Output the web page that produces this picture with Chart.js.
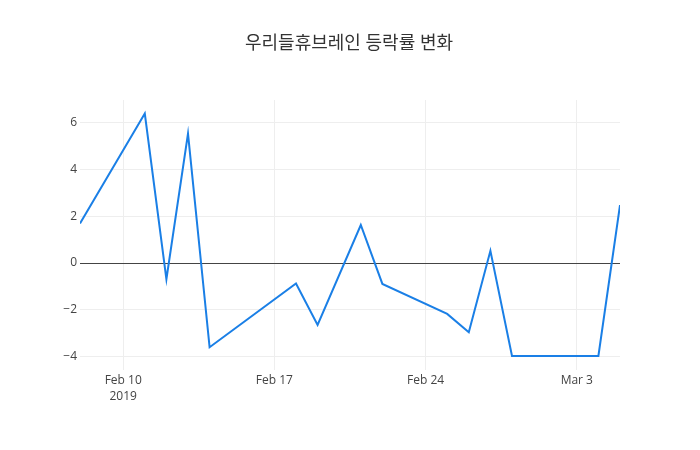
<!DOCTYPE html>
<html>
<head>
<meta charset="utf-8">
<script src="https://cdn.jsdelivr.net/npm/chart.js@4/dist/chart.umd.min.js"></script>
<style>
html,body{margin:0;padding:0;background:#fff;}
#wrap{width:700px;height:450px;position:relative;}
</style>
</head>
<body>
<div id="wrap"><canvas id="c" width="700" height="450"></canvas></div>
<script>
const TITLE = '우리들휴브레인 등락률 변화';
const dates = ['2019-02-08','2019-02-11','2019-02-12','2019-02-13','2019-02-14','2019-02-18','2019-02-19','2019-02-21','2019-02-22','2019-02-25','2019-02-26','2019-02-27','2019-02-28','2019-03-04','2019-03-05'];
const values = [1.69, 6.37, -0.69, 5.52, -3.59, -0.87, -2.64, 1.62, -0.89, -2.17, -2.95, 0.52, -3.96, -3.96, 2.47];
const xTickDates = ['2019-02-10','2019-02-17','2019-02-24','2019-03-03'];
const xTickLabels = [['Feb 10','2019'],'Feb 17','Feb 24','Mar 3'];
const yTicks = [-4,-2,0,2,4,6];
const xRange = ['2019-02-08','2019-03-05'];
const yRange = [-4.56, 6.95];

const DAY = 86400000;
const base = Date.parse(xRange[0] + 'T00:00:00Z');
const toDay = d => (Date.parse(d + 'T00:00:00Z') - base) / DAY;
const points = dates.map((d,i) => ({x: toDay(d), y: values[i]}));
const xTickVals = xTickDates.map(toDay);

const FONT = "'Open Sans', 'Noto Sans CJK KR', sans-serif";

const titlePlugin = {
  id: 'plotTitle',
  afterDraw(chart) {
    const ctx = chart.ctx;
    ctx.save();
    ctx.font = "18px " + FONT;
    ctx.fillStyle = '#333';
    ctx.textAlign = 'center';
    ctx.textBaseline = 'middle';
    ctx.fillText(TITLE, 349, 44);
    ctx.restore();
  }
};

new Chart(document.getElementById('c'), {
  type: 'line',
  data: {
    datasets: [{
      data: points,
      borderColor: '#1a7fe6',
      borderWidth: 2,
      pointRadius: 0,
      tension: 0,
      fill: false
    }]
  },
  options: {
    responsive: false,
    animation: false,
    layout: {padding: {top: 100, right: 80, left: 0, bottom: 0}},
    plugins: {legend: {display: false}, tooltip: {enabled: false}, title: {display: false}},
    scales: {
      x: {
        type: 'linear',
        min: toDay(xRange[0]),
        max: toDay(xRange[1]),
        afterBuildTicks(scale) { scale.ticks = xTickVals.map(v => ({value: v})); },
        afterFit(scale) { scale.height = 80; },
        ticks: {
          autoSkip: false,
          maxRotation: 0,
          padding: 2,
          color: '#444',
          font: {family: FONT, size: 12, lineHeight: 1.35},
          callback(value) {
            const i = xTickVals.indexOf(value);
            return i >= 0 ? xTickLabels[i] : '';
          }
        },
        grid: {color: '#eee', drawTicks: false, lineWidth: 1},
        border: {display: false}
      },
      y: {
        type: 'linear',
        min: yRange[0],
        max: yRange[1],
        afterBuildTicks(scale) { scale.ticks = yTicks.map(v => ({value: v})); },
        afterFit(scale) { scale.width = 80; },
        ticks: {
          padding: 3,
          color: '#444',
          font: {family: FONT, size: 12},
          callback(value) { return String(value).replace('-', '\u2212'); }
        },
        grid: {
          drawTicks: false,
          color: ctx => (ctx.tick && ctx.tick.value === 0) ? '#444' : '#eee',
          lineWidth: 1
        },
        border: {display: false}
      }
    }
  },
  plugins: [titlePlugin]
});
</script>
</body>
</html>
